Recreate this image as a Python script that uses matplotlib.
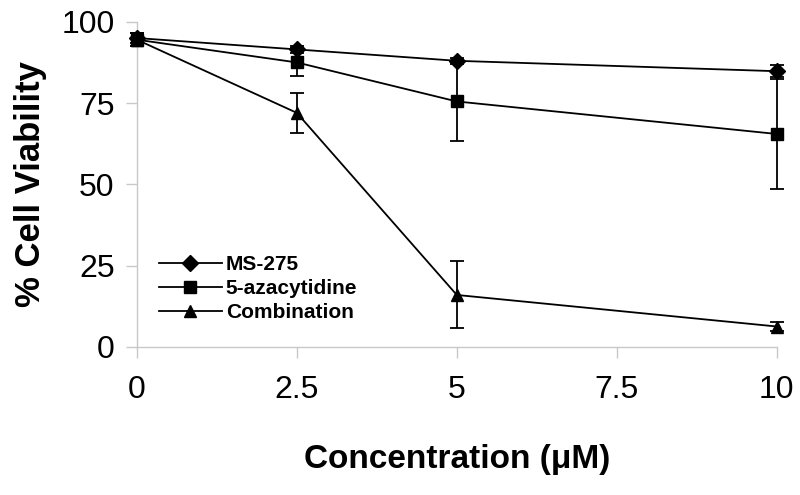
""" Cell viability vs concentration """

import matplotlib
matplotlib.use('Agg')
import matplotlib.pyplot as plt
from matplotlib.font_manager import FontProperties

plt.rcParams['font.family'] = ['Liberation Sans', 'DejaVu Sans']

# data

conc = [0, 2.5, 5, 10]
ms275 = [95.0, 91.5, 88.0, 84.8]
ms275_err = [1.5, 1.0, 1.0, 1.8]
aza = [94.5, 87.5, 75.5, 65.5]
aza_err = [2.0, 4.3, 12.3, 17.0]
combo = [94.5, 72.0, 16.0, 6.3]
combo_err = [2.0, 6.1, 10.3, 1.5]

series = [
    ('MS-275', ms275, ms275_err, 'D'),
    ('5-azacytidine', aza, aza_err, 's'),
    ('Combination', combo, combo_err, '^'),
]

# figure design

fig = plt.figure(figsize=(8, 4.95), dpi=100)
ax = fig.add_axes([0.171, 0.299, 0.8, 0.657])

lines = []
for name, y, err, m in series:
    cont = ax.errorbar(conc, y, yerr=err, color='black', lw=1.3, marker=m,
                       markersize=8.5 if m != 'D' else 8, capsize=5,
                       elinewidth=1.3, capthick=1.3, clip_on=False, zorder=3)
    lines.append(cont[0])

ax.set_xlim(0, 10)
ax.set_ylim(0, 100)
ax.set_xticks([0, 2.5, 5, 7.5, 10])
ax.set_xticklabels(['0', '2.5', '5', '7.5', '10'])
ax.set_yticks([0, 25, 50, 75, 100])

for s in ['top', 'right']:
    ax.spines[s].set_visible(False)
for s in ['left', 'bottom']:
    ax.spines[s].set_color('#c8c8c8')
    ax.spines[s].set_linewidth(1.0)

ax.tick_params(axis='both', colors='#c8c8c8', labelcolor='black', labelsize=23,
               length=8, width=1.0)
ax.tick_params(axis='x', pad=12)
ax.tick_params(axis='y', pad=8)

ax.set_xlabel('Concentration (μM)', fontsize=24, fontweight='bold', labelpad=28)
ax.set_ylabel('% Cell Viability', fontsize=25, fontweight='bold', labelpad=10)

ax.legend(lines, [s[0] for s in series], loc='lower left',
          bbox_to_anchor=(0.022, 0.05), frameon=False,
          prop=FontProperties(weight='bold', size=15),
          handlelength=3.0, handletextpad=0.2, labelspacing=0.25,
          borderaxespad=0.0)

plt.savefig('out.png', dpi=100)
